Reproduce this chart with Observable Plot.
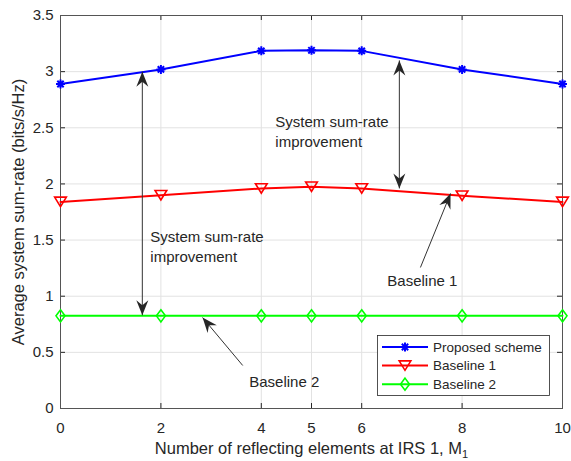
<!DOCTYPE html>
<html><head><meta charset="utf-8">
<script src="https://cdn.jsdelivr.net/npm/d3@7"></script>
<script src="https://cdn.jsdelivr.net/npm/@observablehq/plot@0.6"></script>
<style>body{margin:0;background:#fff;} svg{display:block}</style>
</head><body><div id="chart"></div>
<script>
// ---- data ----
const M = [0, 2, 4, 5, 6, 8, 10];
const proposed  = [2.89, 3.02, 3.185, 3.19, 3.185, 3.02, 2.89];
const baseline1 = [1.84, 1.90, 1.96, 1.975, 1.96, 1.895, 1.84];
const baseline2 = [0.825, 0.825, 0.825, 0.825, 0.825, 0.825, 0.825];
const seriesNames  = ["Proposed scheme", "Baseline 1", "Baseline 2"];
const seriesColors = ["#0000ff", "#ff0000", "#00ff00"];
const xTicks = [0, 2, 4, 5, 6, 8, 10];
const yTicks = [0, 0.5, 1, 1.5, 2, 2.5, 3, 3.5];
const xLabel = "Number of reflecting elements at IRS 1, M";
const xLabelSub = "1";
const yLabel = "Average system sum-rate (bits/s/Hz)";
const noteX    = [1.79, 4.28, 6.51, 3.76];
const noteY    = [1.61, 2.636, 1.22, 0.32];
const noteText = ["System sum-rate\nimprovement", "System sum-rate\nimprovement", "Baseline 1", "Baseline 2"];
const dblArrowX  = [1.63, 6.75];
const dblArrowY1 = [3.0, 3.10];
const dblArrowY2 = [0.83, 1.96];
const ptrX1 = [7.17, 3.63], ptrY1 = [1.256, 0.383];
const ptrX2 = [7.77, 2.83], ptrY2 = [1.915, 0.81];

// ---- tables ----
const allSeries = [proposed, baseline1, baseline2];
const rows = allSeries.map(vals => M.map((m, i) => ({m, v: vals[i]})));
const notes = noteText.map((t, i) => ({x: noteX[i], y: noteY[i], t}));
const dbl = dblArrowX.map((x, i) => ({x, y1: dblArrowY1[i], y2: dblArrowY2[i]}));
const ptr = ptrX1.map((x, i) => ({x1: x, y1: ptrY1[i], x2: ptrX2[i], y2: ptrY2[i]}));

// ---- marker symbols (MATLAB-like) ----
const rad = size => Math.sqrt(size / Math.PI);
const symStar = {draw(ctx, size) { const r = rad(size), d = r * Math.SQRT1_2;
  ctx.moveTo(-r, 0); ctx.lineTo(r, 0); ctx.moveTo(0, -r); ctx.lineTo(0, r);
  ctx.moveTo(-d, -d); ctx.lineTo(d, d); ctx.moveTo(-d, d); ctx.lineTo(d, -d); }};
const symTri = {draw(ctx, size) { const r = rad(size), w = 1.3 * r, h = 1.05 * r;
  ctx.moveTo(-w, -h); ctx.lineTo(w, -h); ctx.lineTo(0, h); ctx.closePath(); }};
const symDia = {draw(ctx, size) { const r = rad(size), w = 1.0 * r, h = 1.35 * r;
  ctx.moveTo(0, -h); ctx.lineTo(w, 0); ctx.lineTo(0, h); ctx.lineTo(-w, 0); ctx.closePath(); }};
const symbols = [symStar, symTri, symDia];

const W = 571, H = 461, mL = 60, mR = 9, mT = 15, mB = 53;
const fW = W - mL - mR, fH = H - mT - mB;
const ink = "#262626";
const font = "'Liberation Sans', Arial, Helvetica, sans-serif";

const marks = [
  Plot.gridX(xTicks, {stroke: "#e2e2e2", strokeOpacity: 1}),
  Plot.gridY(yTicks, {stroke: "#e2e2e2", strokeOpacity: 1}),
  Plot.tickX(xTicks, {x: d => d, stroke: ink, insetTop: fH - 5}),
  Plot.tickX(xTicks, {x: d => d, stroke: ink, insetBottom: fH - 5}),
  Plot.tickY(yTicks, {y: d => d, stroke: ink, insetRight: fW - 5}),
  Plot.tickY(yTicks, {y: d => d, stroke: ink, insetLeft: fW - 5}),
  Plot.frame({stroke: "#555"}),
  Plot.axisX({ticks: xTicks, tickSize: 0, tickPadding: 14, fontSize: 15, fill: ink, label: null, tickFormat: d => String(d)}),
  Plot.axisY({ticks: yTicks, tickSize: 0, tickPadding: 7, fontSize: 15, fill: ink, label: null, tickFormat: d => String(d)}),
  Plot.text([xLabel], {frameAnchor: "bottom", dy: 34, lineAnchor: "top", textAnchor: "middle", fontSize: 16.5, fill: ink}),
  Plot.text([yLabel], {frameAnchor: "left", dx: -48, rotate: -90, lineAnchor: "top", textAnchor: "middle", fontSize: 16.5, fill: ink}),
];
rows.forEach((data, i) => {
  marks.push(Plot.line(data, {x: "m", y: "v", stroke: seriesColors[i], strokeWidth: 2}));
  marks.push(Plot.dot(data, {x: "m", y: "v", symbol: symbols[i], r: 4.5, fill: "none", stroke: seriesColors[i], strokeWidth: i === 0 ? 2 : 1.6}));
});
marks.push(
  Plot.link(dbl, {x1: "x", x2: "x", y1: "y1", y2: "y2", stroke: "#333", strokeWidth: 1}),
  Plot.link(ptr, {x1: "x1", y1: "y1", x2: "x2", y2: "y2", stroke: "#333", strokeWidth: 1}),
  Plot.text(notes, {x: "x", y: "y", text: "t", textAnchor: "start", lineAnchor: "top", lineHeight: 1.33, fontSize: 15, fill: ink})
);

const chart = Plot.plot({
  width: W, height: H,
  marginLeft: mL, marginRight: mR, marginTop: mT, marginBottom: mB,
  x: {domain: [0, 10]},
  y: {domain: [0, 3.5]},
  style: {fontFamily: font, fontSize: "15px", color: ink, background: "#fff"},
  marks
});
document.getElementById("chart").appendChild(chart);

// ---- post-processing: arrowheads, subscript, legend ----
const svg = d3.select(chart);
const defs = svg.insert("defs", ":first-child");
defs.append("marker").attr("id", "ah")
  .attr("viewBox", "-16 -7 17 14").attr("markerWidth", 17).attr("markerHeight", 14)
  .attr("markerUnits", "userSpaceOnUse").attr("orient", "auto-start-reverse")
  .attr("refX", 0).attr("refY", 0)
  .append("path").attr("d", "M0,0L-15,-6L-10,0L-15,6Z").attr("fill", ink);
const linkGroups = svg.selectAll('g[aria-label="link"]').nodes();
d3.select(linkGroups[0]).selectAll("path,line").attr("marker-start", "url(#ah)").attr("marker-end", "url(#ah)");
d3.select(linkGroups[1]).selectAll("path,line").attr("marker-end", "url(#ah)");
svg.selectAll("text").filter(function () { return this.textContent === xLabel; })
  .append("tspan").attr("dy", "0.35em").attr("font-size", 11).text(xLabelSub);

const lg = svg.append("g").attr("font-family", font).attr("font-size", 13.5).attr("text-anchor", "start");
lg.append("rect").attr("x", 377.5).attr("y", 335.5).attr("width", 172).attr("height", 60)
  .attr("fill", "#fff").attr("stroke", ink).attr("stroke-width", 0.8);
seriesNames.forEach((name, i) => {
  const y = 347 + i * 18.6;
  lg.append("line").attr("x1", 382).attr("x2", 428).attr("y1", y).attr("y2", y)
    .attr("stroke", seriesColors[i]).attr("stroke-width", 2);
  lg.append("path").attr("transform", `translate(405,${y})`)
    .attr("d", d3.symbol(symbols[i], Math.PI * 4.5 * 4.5)())
    .attr("fill", "none").attr("stroke", seriesColors[i]).attr("stroke-width", i === 0 ? 2 : 1.6);
  lg.append("text").attr("x", 433).attr("y", y).attr("dy", "0.35em").attr("fill", ink)
    .attr("text-anchor", "start").text(name);
});
</script>
</body></html>
